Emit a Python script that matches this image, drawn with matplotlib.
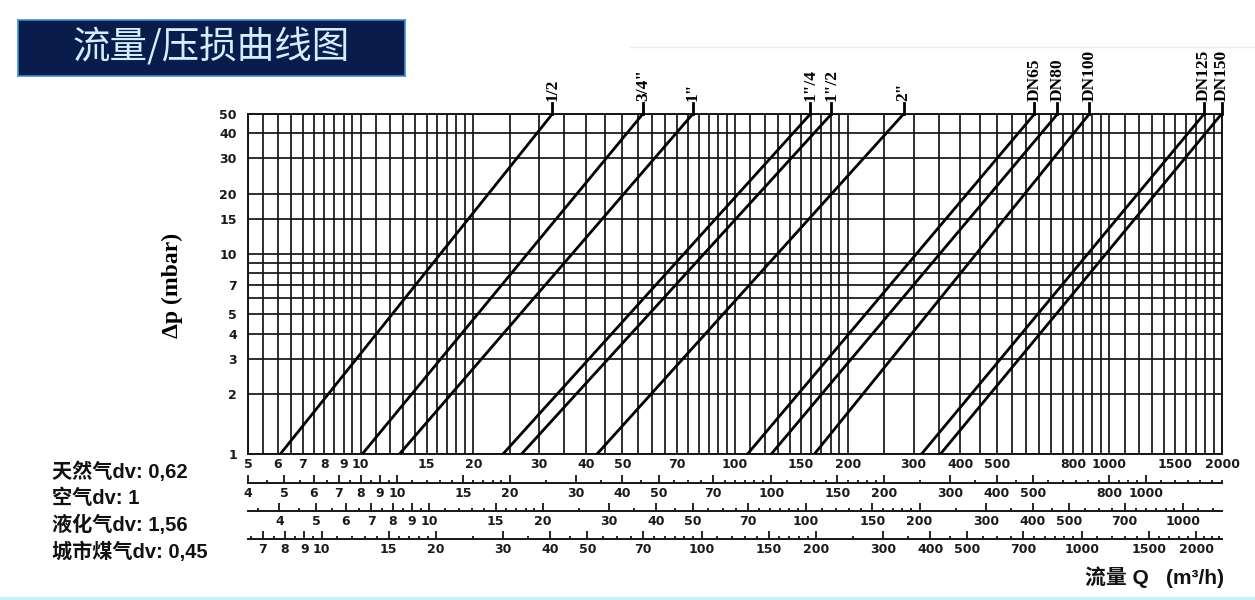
import numpy as np
import matplotlib.pyplot as plt
from matplotlib.lines import Line2D
from matplotlib.ticker import NullFormatter

plt.rcParams['font.family'] = ['DejaVu Sans']
CJK = ['Noto Sans CJK SC', 'DejaVu Sans']
MIXED = ['Liberation Sans', 'Noto Sans CJK SC']

# main chart: natural gas flow (m3/h) vs pressure loss (mbar)
Q_MIN, Q_MAX = 5, 2000
DP_MIN, DP_MAX = 1, 50

SIZES = ['1/2', '3/4"', '1"', '1"/4', '1"/2', '2"',
         'DN65', 'DN80', 'DN100', 'DN125', 'DN150']
Q_AT_1MBAR = [6.1, 10.1, 12.7, 24.0, 26.9, 42.8, 108, 125, 163, 315, 354]
Q_AT_50MBAR = [32.5, 56.7, 77.1, 159, 181, 282, 631, 727, 884, 1791, 1994]

DP_TICKS = [1, 2, 3, 4, 5, 7, 10, 15, 20, 30, 40, 50]
DP_GRID = [1, 2, 3, 4, 5, 6, 7, 8, 9, 10, 15, 20, 30, 40, 50]

# log paper divisions (from, to, step)
Q_STEPS = [(3, 10, 0.5), (10, 20, 1), (20, 100, 5), (100, 200, 10),
           (200, 1000, 50), (1000, 2500, 100)]

NG_TICKS = [5, 6, 7, 8, 9, 10, 15, 20, 30, 40, 50, 70, 100, 150, 200,
            300, 400, 500, 800, 1000, 1500, 2000]
AIR_TICKS = [4, 5, 6, 7, 8, 9, 10, 15, 20, 30, 40, 50, 70, 100, 150, 200,
             300, 400, 500, 800, 1000]
LPG_TICKS = [4, 5, 6, 7, 8, 9, 10, 15, 20, 30, 40, 50, 70, 100, 150, 200,
             300, 400, 500, 700, 1000]
TOWN_TICKS = [7, 8, 9, 10, 15, 20, 30, 40, 50, 70, 100, 150, 200, 300,
              400, 500, 700, 1000, 1500, 2000]

# scale values at the left / right edge of the chart
AIR_RANGE = (4.0, 1600)
LPG_RANGE = (3.3, 1270)
TOWN_RANGE = (6.4, 2340)

GASES = ['天然气dv: 0,62', '空气dv: 1', '液化气dv: 1,56', '城市煤气dv: 0,45']

W, H = 1255, 600
fig = plt.figure(figsize=(W / 100, H / 100), dpi=100)


def box(x0, y0, x1, y1):
    # pixel box (y from top) -> figure fraction
    return [x0 / W, 1 - y1 / H, (x1 - x0) / W, (y1 - y0) / H]


def divisions(lo, hi):
    vals = []
    for a, b, s in Q_STEPS:
        vals.extend(np.arange(a, b + s / 2, s))
    vals = sorted(set(np.round(vals, 3)))
    return [v for v in vals if lo <= v <= hi]


ink = '#151515'
lab_font = dict(fontsize=9, color='#1a1a1a', fontweight='bold')

ax = fig.add_axes(box(248, 114, 1222, 454))
ax.set_xscale('log')
ax.set_yscale('log')
ax.set_xlim(Q_MIN, Q_MAX)
ax.set_ylim(DP_MIN, DP_MAX)

for q in divisions(Q_MIN, Q_MAX):
    ax.axvline(q, color=ink, lw=1.25, zorder=1)
for p in DP_GRID:
    ax.axhline(p, color=ink, lw=1.25, zorder=1)

for name, q1, q50 in zip(SIZES, Q_AT_1MBAR, Q_AT_50MBAR):
    ax.plot([q1, q50], [DP_MIN, DP_MAX], color='#000000', lw=2.0, zorder=3)
    ax.plot([q50, q50], [DP_MAX, 56.5], color='#000000', lw=2.0,
            clip_on=False, zorder=3)
    ax.text(q50, 58, name, rotation=90, ha='center', va='bottom',
            family='Liberation Serif', weight='bold', fontsize=12.5)

ax.set_xticks(NG_TICKS, [str(v) for v in NG_TICKS], **lab_font)
ax.set_yticks(DP_TICKS, [str(v) for v in DP_TICKS], **lab_font)
ax.set_xticks([], minor=True)
ax.set_yticks([], minor=True)
ax.tick_params(axis='x', length=0, pad=3)
ax.tick_params(axis='y', length=0, pad=8)
for s in ax.spines.values():
    s.set_color(ink)
    s.set_linewidth(1.4)

# flow scales of the other gases
for rng, ticks, y in [(AIR_RANGE, AIR_TICKS, 483),
                      (LPG_RANGE, LPG_TICKS, 511),
                      (TOWN_RANGE, TOWN_TICKS, 539)]:
    sa = fig.add_axes(box(248, y - 10, 1222, y))
    sa.set_xscale('log')
    sa.set_xlim(*rng)
    sa.patch.set_visible(False)
    for s in ['top', 'left', 'right']:
        sa.spines[s].set_visible(False)
    sa.spines['bottom'].set_color(ink)
    sa.spines['bottom'].set_linewidth(1.4)
    sa.set_yticks([])
    sa.set_xticks(ticks, [str(v) for v in ticks], **lab_font)
    sa.set_xticks(divisions(*rng), minor=True)
    sa.xaxis.set_minor_formatter(NullFormatter())
    sa.tick_params(axis='x', which='major', direction='in', length=6,
                   width=1.3, color=ink, pad=3)
    sa.tick_params(axis='x', which='minor', direction='in', length=2.5,
                   width=1.3, color=ink)

fig.text(172 / W, 1 - 285 / H, 'Δp (mbar)', rotation=90, ha='center',
         va='center', family='Liberation Serif', weight='bold', fontsize=17)

for i, g in enumerate(GASES):
    fig.text(52 / W, 1 - (472 + 26.5 * i) / H, g, ha='left', va='center',
             family=MIXED, weight='bold', fontsize=14.5, color='#111111')

fig.text(1224 / W, 1 - 577 / H, '流量 Q   (m³/h)', ha='right', va='center',
         family=MIXED, weight='bold', fontsize=15, color='#111111')

# title banner
tax = fig.add_axes(box(18, 20, 405, 76))
tax.set_facecolor('#0a1c4c')
tax.set_xticks([])
tax.set_yticks([])
for s in tax.spines.values():
    s.set_color('#3f8fd2')
    s.set_linewidth(1.2)
tax.text(0.5, 0.5, '流量/压损曲线图', transform=tax.transAxes, ha='center',
         va='center', color='#d2efff', family=CJK, fontsize=27)

fig.add_artist(Line2D([630 / W, 1], [1 - 47 / H] * 2, color='#ececec', lw=1))
fig.add_artist(Line2D([0, 1], [1.5 / H] * 2, color='#c4f3fa', lw=3))

fig.savefig('out.png', dpi=100)
